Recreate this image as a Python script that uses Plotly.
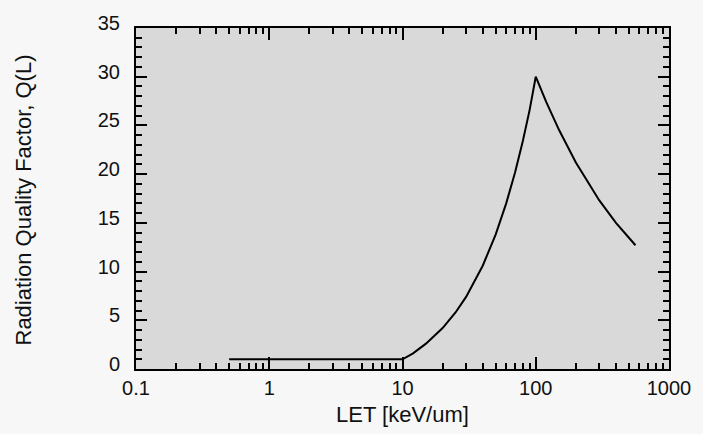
import plotly.graph_objects as go

# Values
let_kev_um = [0.5, 1, 2, 5, 10, 12, 15, 20, 25, 30, 40, 50, 60, 70, 80, 90, 100,
              120, 150, 200, 250, 300, 400, 500, 560]
quality_q = [1.0, 1.0, 1.0, 1.0, 1.0, 1.6, 2.6, 4.2, 5.8, 7.4, 10.6, 13.8, 17.0,
             20.2, 23.4, 26.6, 30.0, 27.4, 24.5, 21.2, 19.0, 17.3, 15.0, 13.4, 12.7]

x_tick_vals = [0.1, 1, 10, 100, 1000]
x_tick_text = ["0.1", "1", "10", "100", "1000"]
y_tick_vals = [0, 5, 10, 15, 20, 25, 30, 35]

x_title = "LET [keV/um]"
y_title = "Radiation Quality Factor, Q(L)"

FONT = "Liberation Sans, Arial, sans-serif"
TXT = "#111111"

fig = go.Figure()
fig.add_trace(go.Scatter(x=let_kev_um, y=quality_q, mode="lines",
                         line=dict(color="black", width=2), showlegend=False))

fig.update_layout(
    width=703, height=434,
    margin=dict(l=136, r=32, t=22, b=65),
    paper_bgcolor="#f7f7f7",
    plot_bgcolor="#d9d9d9",
    font=dict(family=FONT, size=20, color=TXT),
    xaxis=dict(
        type="log", range=[-1, 3],
        tickvals=x_tick_vals, ticktext=x_tick_text,
        ticks="inside", ticklen=12, tickwidth=2, tickcolor="black",
        showline=True, linecolor="black", linewidth=2, mirror="ticks",
        showgrid=False, zeroline=False,
        ticklabelstandoff=0,
        minor=dict(dtick="D1", ticks="inside", ticklen=6, tickwidth=2,
                   tickcolor="black", showgrid=False),
    ),
    yaxis=dict(
        range=[0, 35], tickvals=y_tick_vals,
        ticks="inside", ticklen=11, tickwidth=2, tickcolor="black",
        showline=True, linecolor="black", linewidth=2, mirror="ticks",
        showgrid=False, zeroline=False,
        ticklabelstandoff=10, ticklabelshift=-5,
        minor=dict(dtick=1, ticks="inside", ticklen=6, tickwidth=2,
                   tickcolor="black", showgrid=False),
    ),
    annotations=[
        dict(text=x_title, xref="paper", yref="paper", x=0.5, y=0,
             yshift=-45, xanchor="center", yanchor="middle", showarrow=False,
             font=dict(family=FONT, size=22, color=TXT)),
        dict(text=y_title, xref="paper", yref="paper", x=0, y=0.5,
             xshift=-113, yshift=-2, xanchor="center", yanchor="middle",
             textangle=-90, showarrow=False,
             font=dict(family=FONT, size=22, color=TXT)),
    ],
)

fig.write_html("out.html")
